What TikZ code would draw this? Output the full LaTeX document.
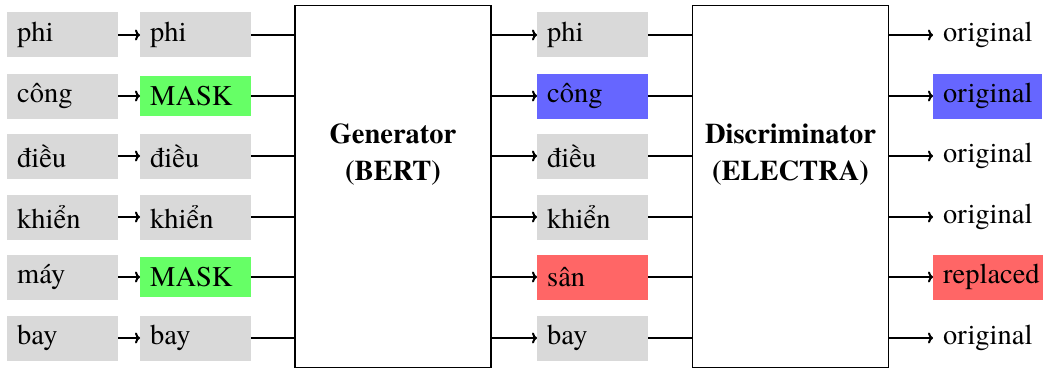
\documentclass[tikz,border=0pt]{standalone}
\usepackage{fontspec}
\IfFontExistsTF{texgyretermes-regular.otf}{%
  \setmainfont{texgyretermes}[Extension=.otf, UprightFont=*-regular, BoldFont=*-bold, ItalicFont=*-italic, BoldItalicFont=*-bolditalic]}{%
  \setmainfont{Liberation Serif}}
\usetikzlibrary{arrows.meta}
\definecolor{boxgray}{RGB}{217,217,217}
\definecolor{maskgreen}{RGB}{102,255,102}
\definecolor{tokblue}{RGB}{102,102,255}
\definecolor{tokred}{RGB}{255,102,102}
\tikzset{
  tok/.style={anchor=west, fill=boxgray, minimum height=45pt, text width=91pt, align=left, inner xsep=10pt, inner ysep=0pt, font=\rmfamily\fontsize{28.5}{34}\selectfont},
  masktok/.style={tok, fill=maskgreen, minimum height=40pt},
  outtok/.style={anchor=west, minimum height=45pt, inner xsep=10pt, inner ysep=0pt, font=\rmfamily\fontsize{28.5}{34}\selectfont},
  model/.style={draw, line width=1.5pt, minimum width=196pt, minimum height=362pt},
  modeltext/.style={align=center, inner sep=0pt, font=\rmfamily\bfseries\fontsize{28.5}{37}\selectfont},
  conn/.style={line width=2pt},
  arr/.style={line width=2pt, -{To[length=5pt,width=11pt]}},
}
\begin{document}
\begin{tikzpicture}[x=1pt,y=-1pt]
\useasboundingbox (0,0) rectangle (1043,369);
\node[model] (gen) at (393,186.5) {};
\node[model] (dis) at (790.5,186.5) {};
\node[modeltext] (gentext) at (393,155) {Generator\\(BERT)};
\node[modeltext] (distext) at (790.5,155) {Discriminator\\(ELECTRA)};
% column 1
\node[tok] (a1) at (7,35) {phi};
\node[tok] (a2) at (7,96) {công};
\node[tok] (a3) at (7,156) {điều};
\node[tok] (a4) at (7,217) {khiển};
\node[tok] (a5) at (7,277) {máy};
\node[tok] (a6) at (7,338) {bay};
% column 2
\node[tok] (b1) at (140,35) {phi};
\node[masktok] (b2) at (140,96) {MASK};
\node[tok] (b3) at (140,156) {điều};
\node[tok] (b4) at (140,217) {khiển};
\node[masktok] (b5) at (140,277) {MASK};
\node[tok] (b6) at (140,338) {bay};
% column 3
\node[tok] (c1) at (537,35) {phi};
\node[tok, fill=tokblue] (c2) at (537,96) {công};
\node[tok] (c3) at (537,156) {điều};
\node[tok] (c4) at (537,217) {khiển};
\node[tok, fill=tokred] (c5) at (537,277) {sân};
\node[tok] (c6) at (537,338) {bay};
% column 4
\node[outtok] (d1) at (933,35) {original};
\node[outtok, fill=tokblue] (d2) at (933,96) {original};
\node[outtok] (d3) at (933,156) {original};
\node[outtok] (d4) at (933,217) {original};
\node[outtok, fill=tokred] (d5) at (933,277) {replaced};
\node[outtok] (d6) at (933,338) {original};
\foreach \i in {1,...,6}{
  \draw[arr] (a\i.east) -- (b\i.west);
  \draw[conn] (b\i.east) -- (gen.west |- b\i.east);
  \draw[arr] (gen.east |- c\i.west) -- (c\i.west);
  \draw[conn] (c\i.east) -- (dis.west |- c\i.east);
  \draw[arr] (dis.east |- d\i.west) -- (d\i.west);
}
\end{tikzpicture}
\end{document}
